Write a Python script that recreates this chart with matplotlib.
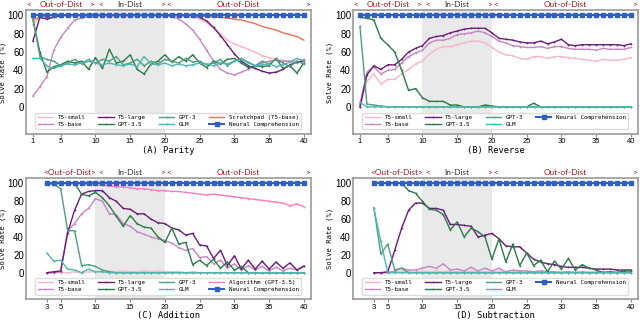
# Solve rate vs. number of digits for four tasks (Parity, Reverse, Addition, Subtraction)
import matplotlib
matplotlib.use('Agg')
import matplotlib.pyplot as plt

plt.rcParams['font.family'] = ['Liberation Sans', 'DejaVu Sans']

# ---- data ----
x_long = list(range(1, 41))   # Parity / Reverse
x_short = list(range(3, 41))  # Addition / Subtraction

parity_t5_small = [90, 98, 100, 100, 100, 100, 100, 100, 100, 100, 100, 100, 100, 100, 100, 100, 100, 100, 100, 100,
                   100, 100, 99, 98, 96, 92, 86, 80, 73, 69, 66, 63, 60, 56, 54, 52, 51, 50, 50, 51]
parity_t5_base = [12, 22, 33, 62, 76, 86, 95, 97, 99, 100, 100, 100, 100, 100, 100, 100, 100, 100, 100, 100,
                  99, 96, 91, 84, 74, 62, 50, 41, 37, 35, 38, 41, 45, 48, 50, 51, 50, 50, 48, 52]
parity_t5_large = [72, 98, 96, 98, 100, 100, 100, 100, 100, 100, 100, 100, 100, 100, 100, 100, 100, 100, 100, 100,
                   100, 100, 100, 100, 98, 94, 87, 78, 68, 58, 50, 45, 42, 39, 37, 38, 41, 46, 49, 50]
parity_gpt35 = [95, 60, 38, 44, 46, 50, 48, 50, 41, 54, 42, 63, 48, 50, 57, 41, 36, 47, 50, 57,
                49, 55, 50, 57, 48, 43, 50, 47, 52, 53, 48, 43, 45, 44, 45, 53, 42, 45, 37, 48]
parity_gpt3 = [97, 55, 52, 50, 45, 48, 52, 47, 50, 48, 52, 50, 55, 46, 48, 52, 45, 50, 47, 52,
               50, 48, 53, 49, 50, 46, 48, 52, 45, 50, 53, 49, 45, 50, 47, 52, 48, 44, 50, 47]
parity_glm = [53, 53, 45, 42, 45, 47, 46, 48, 52, 48, 46, 48, 46, 45, 47, 44, 55, 47, 46, 48,
              45, 47, 45, 46, 48, 47, 45, 48, 47, 50, 52, 48, 45, 46, 47, 44, 46, 49, 53, 50]
parity_scratch = [95, 98, 100, 100, 100, 100, 100, 100, 100, 100, 100, 100, 100, 100, 100, 100, 100, 100, 100, 100,
                  100, 100, 100, 100, 99, 99, 98, 98, 97, 96, 95, 93, 91, 88, 86, 84, 81, 79, 77, 73]

rev_t5_small = [0, 28, 36, 25, 30, 30, 36, 41, 47, 50, 58, 63, 66, 66, 68, 70, 72, 72, 70, 65,
                60, 57, 56, 53, 52, 55, 55, 53, 55, 55, 54, 53, 52, 51, 50, 52, 51, 51, 52, 54]
rev_t5_base = [3, 38, 44, 36, 40, 41, 48, 55, 59, 62, 70, 73, 73, 75, 79, 80, 81, 83, 81, 77,
               72, 70, 67, 66, 65, 65, 66, 64, 66, 66, 64, 63, 63, 63, 62, 64, 63, 63, 63, 65]
rev_t5_large = [0, 35, 45, 41, 46, 46, 52, 60, 64, 67, 75, 77, 78, 81, 83, 85, 86, 86, 86, 81,
                75, 74, 73, 71, 70, 70, 72, 69, 71, 74, 68, 67, 68, 68, 68, 68, 68, 68, 67, 69]
rev_gpt35 = [98, 97, 95, 75, 68, 60, 40, 18, 20, 10, 6, 6, 6, 2, 2, 0, 0, 0, 2, 1,
             0, 0, 0, 0, 0, 4, 0, 0, 0, 0, 0, 0, 0, 0, 0, 0, 0, 0, 0, 0]
rev_gpt3 = [88, 3, 2, 1] + [0] * 36
rev_glm = [5] + [0] * 39

add_t5_small = [0, 0, 0, 0, 1, 0, 1, 1, 2, 2, 1, 2, 1, 1, 2, 1, 2, 1, 1, 1,
                0, 1, 0, 0, 0, 0, 0, 0, 0, 0, 0, 0, 0, 0, 0, 0, 0, 0]
add_t5_base = [0, 0, 1, 47, 55, 66, 72, 83, 80, 66, 65, 55, 52, 46, 43, 40, 38, 36, 33, 28,
               25, 27, 17, 18, 10, 14, 5, 10, 3, 8, 3, 7, 2, 6, 2, 5, 3, 8]
add_t5_large = [0, 1, 2, 45, 70, 88, 91, 92, 92, 84, 80, 72, 71, 66, 66, 60, 56, 55, 50, 48,
                42, 44, 31, 30, 16, 25, 8, 19, 4, 14, 4, 13, 4, 12, 5, 11, 3, 7]
add_gpt35 = [100, 100, 100, 100, 100, 88, 86, 90, 84, 75, 63, 52, 64, 55, 51, 50, 40, 34, 50, 32,
             34, 9, 14, 8, 15, 5, 12, 3, 7, 0, 0, 0, 0, 0, 0, 0, 0, 0]
add_gpt3 = [100, 99, 94, 47, 47, 8, 9, 7, 3, 1] + [0] * 28
add_glm = [22, 13, 14, 4, 3, 0, 4, 1, 1] + [0] * 29
add_algo = [100, 100, 100, 100, 100, 99, 99, 98, 98, 97, 96, 96, 95, 94, 94, 93, 92, 92, 91, 91,
            90, 89, 88, 87, 88, 87, 86, 85, 84, 83, 82, 81, 80, 79, 78, 75, 77, 74]

sub_t5_small = [0, 0, 0, 1, 2, 1, 1, 2, 1, 2, 1, 2, 1, 1, 2, 1, 1, 1, 2, 1,
                2, 1, 1, 1, 2, 1, 1, 1, 1, 1, 0, 1, 1, 0, 1, 1, 0, 1]
sub_t5_base = [0, 0, 0, 2, 5, 3, 3, 5, 7, 5, 10, 3, 4, 2, 6, 2, 5, 2, 5, 1,
               3, 2, 2, 1, 2, 1, 1, 0, 1, 0, 1, 0, 0, 1, 0, 0, 1, 0]
sub_t5_large = [0, 0, 1, 25, 50, 70, 78, 78, 72, 72, 70, 54, 54, 53, 52, 40, 42, 44, 38, 30,
                29, 29, 22, 15, 12, 10, 9, 7, 6, 6, 6, 5, 4, 4, 4, 3, 3, 3]
sub_gpt35 = [100, 100, 100, 100, 100, 92, 89, 80, 71, 70, 65, 48, 57, 40, 50, 46, 40, 15, 38, 12,
             32, 8, 22, 8, 14, 1, 13, 4, 16, 3, 9, 5, 3, 0, 1, 0, 2, 2]
sub_gpt3 = [73, 21, 32, 3, 5] + [0] * 33
sub_glm = [72, 35] + [0] * 36

# colours
C_SMALL = '#f6b8c8'
C_BASE = '#c486c4'
C_LARGE = '#6a1b7a'
C_GPT35 = '#2c7a48'
C_GPT3 = '#4e9e80'
C_GLM = '#4db6b0'
C_SCRATCH = '#e8704c'
C_ALGO = '#f77fbe'
C_NC = '#2f5fc0'
RED = '#a8181c'

MONO = 'DejaVu Sans Mono'


def draw_line(ax, x, y, color, label):
    ax.plot(x, y, color=color, lw=1.0, marker='+', ms=2.0, mew=0.5, label=label)


def style_panel(ax, xticks, xlabel, first_x):
    ax.axvspan(10, 20, color='#e9e9e9', zorder=0, lw=0)
    ax.set_xlim(0, 41)
    ax.set_ylim(-30, 106)
    ax.set_yticks([0, 20, 40, 60, 80, 100])
    ax.set_xticks(xticks)
    ax.tick_params(axis='y', length=0, pad=1.5, labelsize=7)
    ax.tick_params(axis='x', length=2, pad=1, labelsize=5.5, color='#888888')
    for s in ax.spines.values():
        s.set_color('#9a9a9a')
        s.set_linewidth(1.2)
    ax.set_xlabel(xlabel, family=MONO, fontsize=6.3, labelpad=0.5)
    ax.set_ylabel('Solve Rate (%)', family=MONO, fontsize=5.2, labelpad=1)
    ax.legend(loc='lower center', bbox_to_anchor=(0.5, 0.015), ncol=4,
              prop={'family': MONO, 'size': 4.2}, handlelength=2.6,
              columnspacing=2.2, handletextpad=0.8, labelspacing=0.35,
              borderpad=0.4, edgecolor='#dddddd', framealpha=1)

    # distribution markers above the axes
    tr = ax.get_xaxis_transform()
    kw = dict(transform=tr, va='bottom', fontsize=6, family='Lato')
    if first_x == 1:
        ax.text(0.4, 1.015, '<', ha='center', color=RED, **kw)
        ax.text(5, 1.015, 'Out-of-Dist', ha='center', color=RED, **kw)
        ax.text(9.5, 1.015, '>', ha='center', color=RED, **kw)
    else:
        ax.text(6.3, 1.015, '<Out-of-Dist>', ha='center', color=RED, **kw)
    ax.text(10.8, 1.015, '<', ha='center', color=RED, **kw)
    ax.text(15, 1.015, 'In-Dist', ha='center', color='#333333', **kw)
    ax.text(19.6, 1.015, '>', ha='center', color=RED, **kw)
    ax.text(20.5, 1.015, '<', ha='center', color=RED, **kw)
    ax.text(30.5, 1.015, 'Out-of-Dist', ha='center', color=RED, **kw)
    ax.text(40.5, 1.015, '>', ha='center', color=RED, **kw)


def draw_nc(ax, x):
    ax.plot(x, [100] * len(x), color=C_NC, lw=1.5, marker='s', ms=2.6,
            label='Neural Comprehension', zorder=5)


fig = plt.figure(figsize=(6.4, 3.22), dpi=100)
axA = fig.add_axes([0.0406, 0.583, 0.445, 0.386])
axB = fig.add_axes([0.5516, 0.583, 0.445, 0.386])
axC = fig.add_axes([0.0406, 0.070, 0.445, 0.377])
axD = fig.add_axes([0.5516, 0.070, 0.445, 0.377])

# (A) Parity
draw_line(axA, x_long, parity_t5_small, C_SMALL, 'T5-small')
draw_line(axA, x_long, parity_t5_base, C_BASE, 'T5-base')
draw_line(axA, x_long, parity_t5_large, C_LARGE, 'T5-large')
draw_line(axA, x_long, parity_gpt35, C_GPT35, 'GPT-3.5')
draw_line(axA, x_long, parity_gpt3, C_GPT3, 'GPT-3')
draw_line(axA, x_long, parity_glm, C_GLM, 'GLM')
axA.plot(x_long, parity_scratch, color=C_SCRATCH, lw=1.0, label='Scratchpad (T5-base)')
draw_nc(axA, x_long)
style_panel(axA, [1, 5, 10, 15, 20, 25, 30, 35, 40], '(A) Parity', 1)

# (B) Reverse
draw_line(axB, x_long, rev_t5_small, C_SMALL, 'T5-small')
draw_line(axB, x_long, rev_t5_base, C_BASE, 'T5-base')
draw_line(axB, x_long, rev_t5_large, C_LARGE, 'T5-large')
draw_line(axB, x_long, rev_gpt35, C_GPT35, 'GPT-3.5')
draw_line(axB, x_long, rev_gpt3, C_GPT3, 'GPT-3')
draw_line(axB, x_long, rev_glm, C_GLM, 'GLM')
draw_nc(axB, x_long)
style_panel(axB, [1, 5, 10, 15, 20, 25, 30, 35, 40], '(B) Reverse', 1)

# (C) Addition
draw_line(axC, x_short, add_t5_small, C_SMALL, 'T5-small')
draw_line(axC, x_short, add_t5_base, C_BASE, 'T5-base')
draw_line(axC, x_short, add_t5_large, C_LARGE, 'T5-large')
draw_line(axC, x_short, add_gpt35, C_GPT35, 'GPT-3.5')
draw_line(axC, x_short, add_gpt3, C_GPT3, 'GPT-3')
draw_line(axC, x_short, add_glm, C_GLM, 'GLM')
draw_line(axC, x_short, add_algo, C_ALGO, 'Algorithm (GPT-3.5)')
draw_nc(axC, x_short)
style_panel(axC, [3, 5, 10, 15, 20, 25, 30, 35, 40], '(C) Addition', 3)

# (D) Subtraction
draw_line(axD, x_short, sub_t5_small, C_SMALL, 'T5-small')
draw_line(axD, x_short, sub_t5_base, C_BASE, 'T5-base')
draw_line(axD, x_short, sub_t5_large, C_LARGE, 'T5-large')
draw_line(axD, x_short, sub_gpt35, C_GPT35, 'GPT-3.5')
draw_line(axD, x_short, sub_gpt3, C_GPT3, 'GPT-3')
draw_line(axD, x_short, sub_glm, C_GLM, 'GLM')
draw_nc(axD, x_short)
style_panel(axD, [3, 5, 10, 15, 20, 25, 30, 35, 40], '(D) Subtraction', 3)

fig.savefig('out.png', dpi=100)
